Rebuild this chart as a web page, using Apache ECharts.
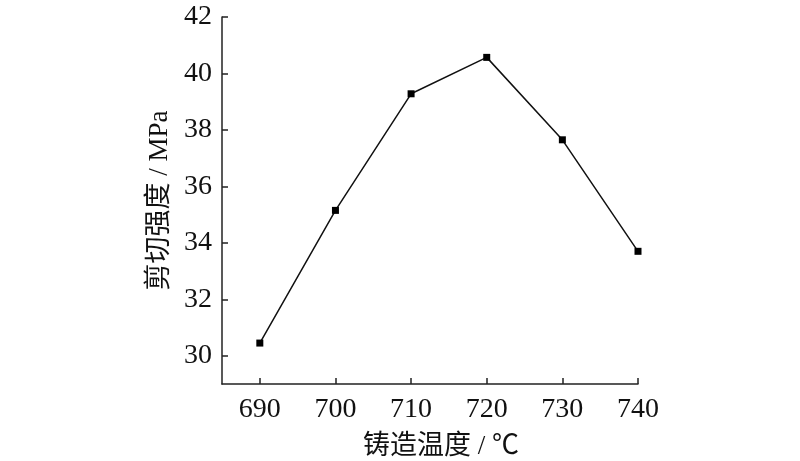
<!DOCTYPE html>
<html>
<head>
<meta charset="utf-8">
<script src="https://cdn.jsdelivr.net/npm/echarts@6/dist/echarts.min.js"></script>
<style>
  html, body { margin: 0; padding: 0; background: #fff; }
  #chart { width: 800px; height: 461px; }
</style>
</head>
<body>
<div id="chart"></div>
<script>
  // 数据
  var temps = [690, 700, 710, 720, 730, 740]
  var strength = [30.45, 35.15, 39.28, 40.57, 37.65, 33.7]
  var xTicks = [690, 700, 710, 720, 730, 740]
  var yTicks = [30, 32, 34, 36, 38, 40, 42]

  var font = 'Liberation Serif, Times New Roman, Noto Sans CJK SC, serif'

  var chart = echarts.init(document.getElementById('chart'))
  var option = {
    animation: false,
    backgroundColor: '#fff',
    grid: { left: 222, right: 162, top: 17, bottom: 77, outerBoundsMode: 'none' },
    xAxis: {
      type: 'value',
      min: 685,
      max: 740,
      name: '铸造温度 / ℃',
      nameLocation: 'middle',
      nameGap: 49,
      nameTextStyle: { fontFamily: font, fontSize: 27, color: '#111', padding: [0, 0, 0, 22] },
      axisLine: { lineStyle: { color: '#222', width: 1.5 } },
      axisTick: { inside: true, length: 6, customValues: xTicks, lineStyle: { color: '#222', width: 1.5 } },
      axisLabel: { customValues: xTicks, margin: 12, fontFamily: font, fontSize: 28, color: '#111' },
      splitLine: { show: false }
    },
    yAxis: {
      type: 'value',
      min: 29,
      max: 42,
      name: '剪切强度 / MPa',
      nameLocation: 'middle',
      nameGap: 48,
      nameTextStyle: { fontFamily: font, fontSize: 27, color: '#111' },
      axisLine: { show: true, lineStyle: { color: '#222', width: 1.5 } },
      axisTick: { show: true, inside: true, length: 6, customValues: yTicks, lineStyle: { color: '#222', width: 1.5 } },
      axisLabel: { customValues: yTicks, margin: 10, fontFamily: font, fontSize: 28, color: '#111' },
      splitLine: { show: false }
    },
    series: [{
      type: 'line',
      data: temps.map(function (t, i) { return [t, strength[i]] }),
      symbol: 'rect',
      symbolSize: 7,
      itemStyle: { color: '#000' },
      lineStyle: { color: '#111', width: 1.5 }
    }]
  }
  chart.setOption(option)
</script>
</body>
</html>
